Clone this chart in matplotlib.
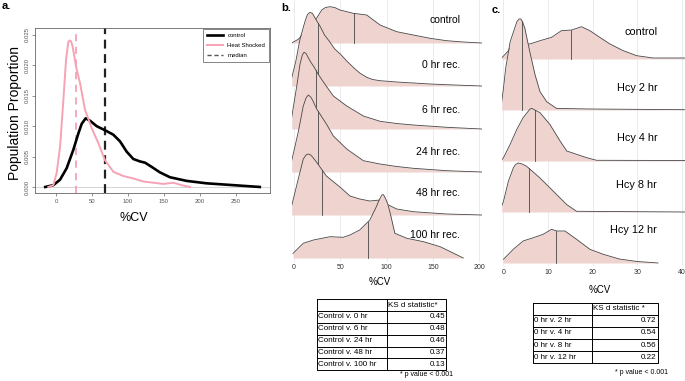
import matplotlib
matplotlib.use("Agg")
import matplotlib.pyplot as plt
import numpy as np

W, H = 685, 381
plt.rcParams["font.family"] = ["Liberation Sans", "DejaVu Sans"]

# ---- panel a: %CV density, control vs heat shocked ----
ctrl_x = [-15, -3.7, 5.6, 14.8, 24, 31, 35.7, 41.2, 47.2, 56.5, 68.5, 79.6, 88.9, 98.2,
          107.4, 116.7, 123.6, 132.9, 144.4, 158.3, 181.5, 209.3, 246.3, 283]
ctrl_y = [0, 0.0003, 0.0012, 0.0031, 0.0061, 0.0088, 0.0104, 0.0113, 0.0109, 0.0100,
          0.0093, 0.0086, 0.0075, 0.0058, 0.0046, 0.0042, 0.0040, 0.0033, 0.0024,
          0.0016, 0.0010, 0.0006, 0.0003, 0.0]
hs_x = [-10.7, -3.7, 0.9, 5.6, 10.2, 13.9, 17.1, 19.4, 21, 23.1, 27.8, 33.3, 40.3, 49.5,
        58.8, 68, 79.6, 93.5, 107.4, 121.3, 135.2, 149, 162.9, 174.5, 186]
hs_y = [0, 0.0003, 0.0023, 0.0066, 0.0143, 0.0209, 0.0239, 0.0241, 0.0239, 0.0231,
        0.0198, 0.0171, 0.0127, 0.0097, 0.0072, 0.0044, 0.0025, 0.0018, 0.0014,
        0.0009, 0.0007, 0.0005, 0.0007, 0.0003, 0.0]
ctrl_median = 68
hs_median = 28
a_xticks = [0, 50, 100, 150, 200, 250]
a_yticks = [0.000, 0.005, 0.010, 0.015, 0.020, 0.025]

# ---- panel b: recovery ridges (heights in scaled density units) ----
b_names = ["control", "0 hr rec.", "6 hr rec.", "24 hr rec.", "48 hr rec.", "100 hr rec."]
b_ctrl_x = [-2.5, 4.6, 12, 20.9, 30, 34, 38.9, 44, 49.7, 64, 78.6, 93, 111, 129, 147,
            165, 183, 203]
b_ctrl_h = [0, 3.7, 11, 19.7, 33, 35.5, 36.3, 35.5, 33, 29.7, 28, 18, 11.3, 8, 4.7,
            2.3, 1, 0]
b_0hr_x = [-2.5, 2, 6.5, 12, 14.5, 17.3, 20, 24, 28, 33, 39, 44, 50, 57, 64, 71, 78.6,
           85, 93, 111, 129, 147, 165, 185, 203]
b_0hr_h = [8, 25, 47, 65, 71.5, 73.7, 72.5, 66, 60, 51, 43.7, 37, 32, 25, 18.7, 13, 8.7,
           6.5, 5.3, 4, 3, 2, 1.3, 0.6, 0]
b_6hr_x = [-2.5, 3, 6.5, 9, 10.8, 13, 15, 18, 21, 26, 32, 42.5, 57, 75, 93, 111, 129,
           165, 203]
b_6hr_h = [11.7, 43, 65, 74, 76.7, 75.5, 72, 67, 63, 55, 46.7, 33, 23, 13, 7.7, 5.5, 4,
           1.7, 0]
b_24hr_x = [-2.5, 4.6, 10, 13, 15.5, 18, 20, 24.5, 35, 42.5, 57, 75, 93, 111, 129, 165,
            203]
b_24hr_h = [11.3, 40, 66, 74, 77, 75, 72, 63, 48, 36, 23, 11.3, 8, 5.5, 3.7, 1.3, 0]
b_48hr_x = [-2.5, 4.6, 10, 13, 15.5, 18, 20, 24.5, 35, 50, 60.5, 71, 82, 93, 100, 111,
            129, 165, 203]
b_48hr_h = [9.3, 36, 56, 60, 61, 60, 58, 52.7, 39, 27.7, 19, 16, 14, 15, 11, 6, 3.3, 1, 0]
b_100hr_x = [-1, 10, 21, 39, 53, 60.5, 71, 82, 89, 92, 95, 96.5, 98, 101, 104, 109, 122,
             140, 158, 183]
b_100hr_h = [4.7, 14.7, 18, 21.3, 20.7, 23, 28, 38, 51.3, 58, 63, 63.5, 61.3, 55, 44.7,
             24.7, 19.7, 16.3, 11.3, 0]
b_medians = [65, 26, 23.8, 25.6, 30.6, 80]
b_xticks = [0, 50, 100, 150, 200]

# ---- panel c: homocysteine ridges ----
c_names = ["control", "Hcy 2 hr", "Hcy 4 hr", "Hcy 8 hr", "Hcy 12 hr"]
c_ctrl_x = [-0.4, 1.1, 2.2, 3.3, 4.5, 5.9, 8.2, 10.8, 13, 15.3, 17.5, 19.4, 21.6, 23.9,
            26.9, 29.9, 33.6, 40.7]
c_ctrl_h = [1, 8.3, 15.6, 16.5, 15.5, 15, 18.3, 21.7, 28.3, 29, 32.3, 28.3, 21.7, 15,
            8.3, 3.3, 1, 1]
c_2hr_x = [-0.4, 0, 0.5, 1.5, 3, 3.5, 3.9, 4.3, 4.8, 5.9, 7.1, 8.2, 9.7, 11.9, 19.4, 40.7]
c_2hr_h = [8, 22, 42, 68.3, 88.3, 91, 91, 88, 81.6, 58.3, 35, 18.3, 8.3, 1.6, 1, 0.3]
c_4hr_x = [-0.4, 0, 1.5, 3, 4.4, 5.9, 6.3, 8.2, 10.4, 12.7, 14.2, 16.4, 18.7, 20.9, 40.7]
c_4hr_h = [1, 3.3, 16.7, 31.7, 43.3, 51.7, 52.7, 48.3, 36.7, 20, 10, 6.7, 3.3, 0.7, 0.5]
c_8hr_x = [-0.4, 0, 1.1, 2.2, 2.7, 3.3, 4.2, 5.2, 8.2, 11.2, 14.2, 16.4, 40.7]
c_8hr_h = [6, 10.7, 30.7, 44, 47.5, 49, 48, 45.7, 34, 20.7, 7.4, 0.7, 0]
c_12hr_x = [0, 2.2, 4.4, 6.7, 8.9, 10.8, 11.9, 13.8, 16.4, 19.4, 22.4, 26, 30, 34.7]
c_12hr_h = [3.7, 13.7, 22, 25.3, 28.7, 33.7, 32, 32, 23.7, 13.7, 8.7, 4, 1.5, 0]
c_medians = [15.1, 4.1, 7.1, 5.7, 11.7]
c_xticks = [0, 10, 20, 30, 40]

# ---- KS tables ----
b_comparisons = ["Control v. 0 hr", "Control v. 6 hr", "Control v. 24 hr",
                 "Control v. 48 hr", "Control v. 100 hr"]
b_ks = [0.45, 0.48, 0.46, 0.37, 0.13]
c_comparisons = ["0 hr v. 2 hr", "0 hr v. 4 hr", "0 hr v. 8 hr", "0 hr v. 12 hr"]
c_ks = [0.72, 0.54, 0.56, 0.22]

PINK = "#F5A3B5"
FILL = "#EED3CF"
EDGE = "#474747"

fig = plt.figure(figsize=(W / 100, H / 100), dpi=100)


def px_axes(l, t, r, b):
    return fig.add_axes([l / W, 1 - b / H, (r - l) / W, (b - t) / H])


# panel a
ax = px_axes(35, 28, 270, 193)
ax.axhline(0, color="#cccccc", lw=0.6, zorder=1)
ax.plot(ctrl_x, ctrl_y, color="black", lw=1.9, label="control", zorder=3)
ax.plot(hs_x, hs_y, color=PINK, lw=1.4, label="Heat Shocked", zorder=3)
ax.axvline(hs_median, color=PINK, lw=1.3, ls=(0, (4, 3)), zorder=2)
ax.axvline(ctrl_median, color="#222222", lw=1.6, ls=(0, (4, 2.5)), zorder=2)
ax.plot([], [], color="#555555", lw=1.0, ls=(0, (3, 2)), label="median")
ax.set_xlim(-29.2, 297.2)
ax.set_ylim(-0.00099, 0.02615)
ax.set_xticks(a_xticks)
ax.set_yticks(a_yticks)
ax.set_yticklabels([f"{v:.3f}" for v in a_yticks], rotation=90, va="center")
ax.tick_params(direction="out", length=2.5, width=0.5, color="#666666",
               labelsize=4.3, labelcolor="#555555", pad=1.5)
for s in ax.spines.values():
    s.set_color("#666666")
    s.set_linewidth(0.6)
leg = ax.legend(loc="upper right", fontsize=4.3, frameon=True, fancybox=False,
                edgecolor="#555555", framealpha=1, borderaxespad=0.1,
                handlelength=2.6, labelspacing=0.8, borderpad=0.7)
leg.get_frame().set_linewidth(0.5)
fig.text(15 / W, 1 - 113 / H, "Population Proportion", rotation=90,
         ha="center", va="center", fontsize=10)
fig.text(134 / W, 1 - 218 / H, "%CV", ha="center", va="center", fontsize=9)


def ridges(ax, xs, hs, medians, names, step, label_x, offsets, fs):
    n = len(xs)
    for i in range(n):
        base = (n - 1 - i) * step
        x = np.asarray(xs[i], dtype=float)
        top = base + np.asarray(hs[i], dtype=float)
        z = 2 + 3 * i
        ax.fill_between(x, base, top, color=FILL, lw=0, zorder=z)
        ax.plot(x, top, color=EDGE, lw=0.6, zorder=z + 1)
        m = medians[i]
        ax.plot([m, m], [base, np.interp(m, x, top)], color=EDGE, lw=0.6, zorder=z + 1)
        ax.text(label_x, base + offsets[i], names[i], ha="right", va="center",
                fontsize=fs, zorder=40)
    ax.grid(axis="x", color="#e8e8e8", lw=0.6)
    ax.set_axisbelow(True)
    for s in ax.spines.values():
        s.set_visible(False)
    ax.set_yticks([])
    ax.tick_params(axis="x", length=0, labelsize=5, labelcolor="#333333")


# panel b
axb = px_axes(291.7, 0, 482, 262)
ridges(axb,
       [b_ctrl_x, b_0hr_x, b_6hr_x, b_24hr_x, b_48hr_x, b_100hr_x],
       [b_ctrl_h, b_0hr_h, b_6hr_h, b_24hr_h, b_48hr_h, b_100hr_h],
       b_medians, b_names, 43, 179.5, [23, 21, 19, 20, 22, 23], 7.5)
axb.set_xlim(-2.5, 203.2)
axb.set_ylim(-4, 258)
axb.set_xticks(b_xticks)
axb.tick_params(axis="x", pad=1.5)
fig.text(380 / W, 1 - 282 / H, "%CV", ha="center", va="center", fontsize=7)

# panel c
axc = px_axes(501.7, 0, 685, 266)
ridges(axc,
       [c_ctrl_x, c_2hr_x, c_4hr_x, c_8hr_x, c_12hr_x],
       [c_ctrl_h, c_2hr_h, c_4hr_h, c_8hr_h, c_12hr_h],
       c_medians, c_names, 51, 34.5, [27, 22, 23, 27, 33], 7.8)
axc.set_xlim(-0.4, 40.74)
axc.set_ylim(-3, 263)
axc.set_xticks(c_xticks)
axc.tick_params(axis="x", pad=2.2)
fig.text(600 / W, 1 - 290 / H, "%CV", ha="center", va="center", fontsize=7)

# overlay: panel letters and KS tables
ov = fig.add_axes([0, 0, 1, 1])
ov.set_xlim(0, W)
ov.set_ylim(H, 0)
ov.axis("off")
for lx, ly, letter in [(2, 6, "a."), (281, 8, "b."), (492, 10, "c.")]:
    ov.text(lx, ly, letter, fontsize=8, fontweight="bold", va="center")


def ks_table(left, mid, right, top, rowh, header, labels, values, note_x, note_y):
    nrow = len(labels) + 1
    bottom = top + nrow * rowh
    kw = dict(color="black", lw=0.7)
    ov.plot([left, right, right, left, left], [top, top, bottom, bottom, top], **kw)
    for i in range(1, nrow):
        ov.plot([left, right], [top + i * rowh] * 2, **kw)
    ov.plot([mid, mid], [top, bottom], **kw)
    ov.text(mid + 1, top + rowh / 2, header, va="center", fontsize=5.8)
    for i, (lab, val) in enumerate(zip(labels, values)):
        y = top + (i + 1.5) * rowh
        ov.text(left + 1, y, lab, va="center", fontsize=5.8)
        ov.text(right - 1, y, f"{val:.2f}", va="center", ha="right", fontsize=5.8)
    ov.text(note_x, note_y, "* p value < 0.001", ha="right", va="center", fontsize=5)


ks_table(316.7, 387.3, 446, 299.3, 11.8, "KS d statistic*", b_comparisons, b_ks, 453, 374)
ks_table(533.3, 591.7, 657.7, 302.7, 12.1, "KS d statistic *", c_comparisons, c_ks, 668, 372.3)

fig.savefig("out.png", dpi=100)
